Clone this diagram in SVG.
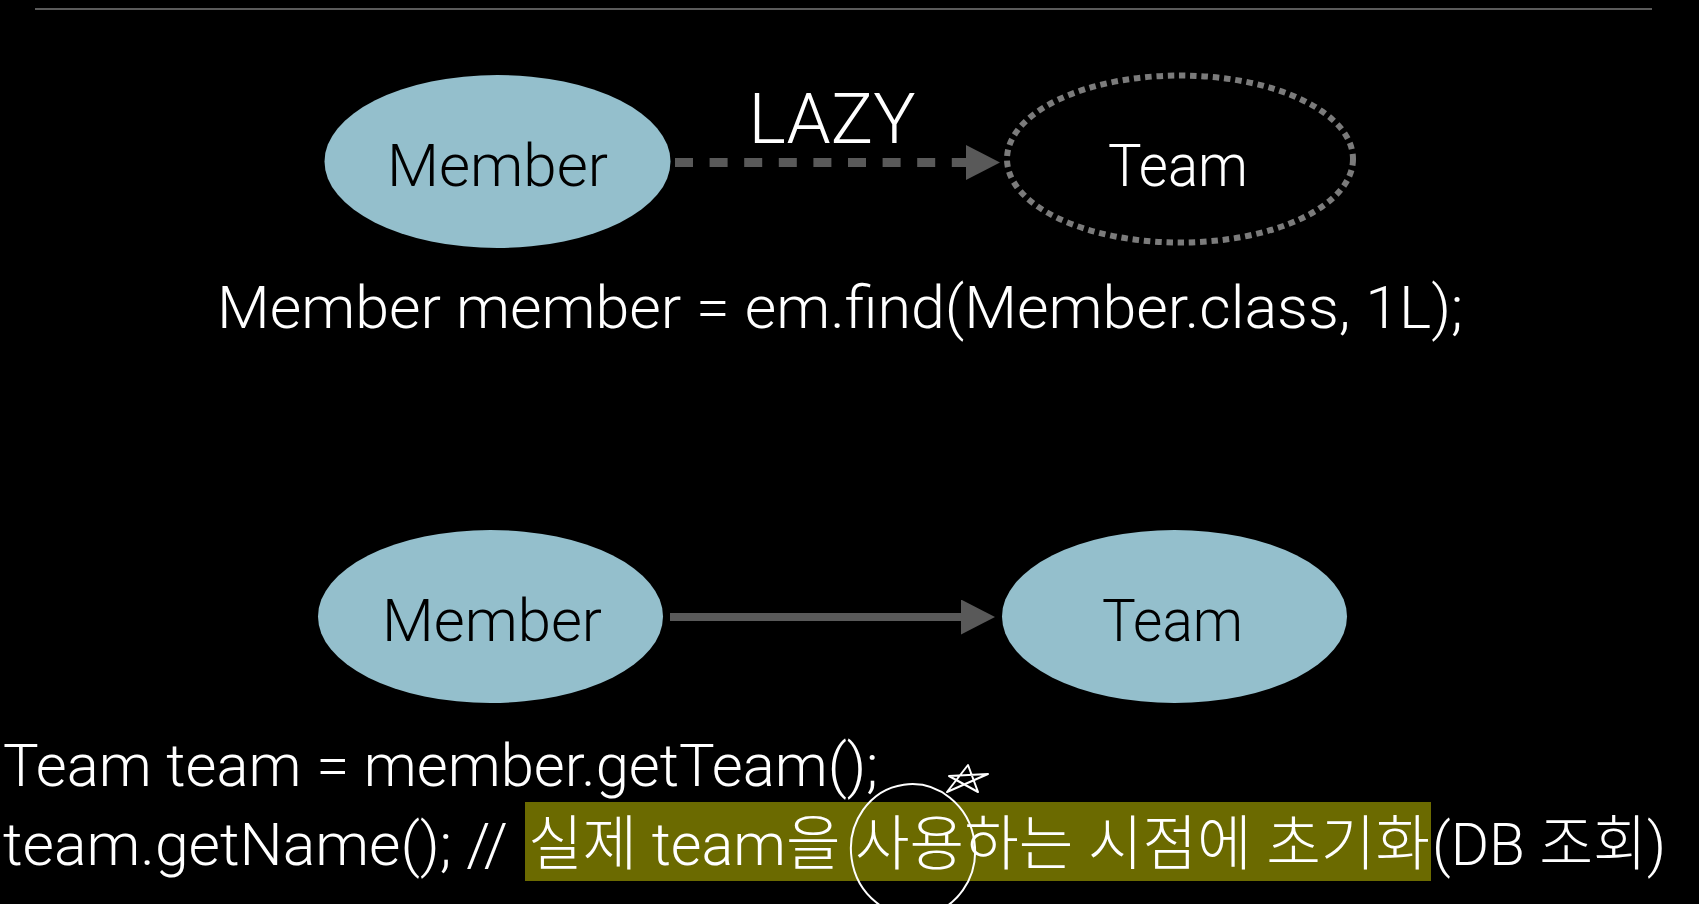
<svg xmlns="http://www.w3.org/2000/svg" width="1699" height="904" viewBox="0 0 1699 904">
  <style>
    .txt { font-family: Roboto, "Liberation Sans", "Noto Sans CJK KR", sans-serif; font-weight: 300; }
    .node { fill: #94bfcc; }
    .dark { fill: #000000; }
    .light { fill: #ffffff; }
    .conn { stroke: #595959; fill: none; }
  </style>
  <defs>
    <marker id="arrowhead" markerUnits="userSpaceOnUse" markerWidth="34" markerHeight="35" refX="0" refY="17.5" orient="auto">
      <path d="M0,0 L34,17.5 L0,35 Z" fill="#595959"/>
    </marker>
  </defs>
  <rect x="0" y="0" width="1699" height="904" fill="#000000"/>
  <line x1="35" y1="9" x2="1652" y2="9" stroke="#7a7a7a" stroke-width="1.5"/>

  <g id="node-member-top">
    <ellipse class="node" cx="497.5" cy="161.5" rx="173" ry="86.5"/>
    <text class="txt dark" x="497.5" y="186" font-size="60" text-anchor="middle" textLength="221" lengthAdjust="spacingAndGlyphs">Member</text>
  </g>

  <g id="node-team-top">
    <ellipse cx="1180" cy="159" rx="173" ry="83.5" fill="none" stroke="#7b7b7b" stroke-width="6" stroke-dasharray="6.5 4.8"/>
    <text class="txt light" x="1178" y="186" font-size="60" text-anchor="middle" textLength="140" lengthAdjust="spacingAndGlyphs">Team</text>
  </g>

  <g id="node-member-bottom">
    <ellipse class="node" cx="490.5" cy="616.5" rx="172.5" ry="86.5"/>
    <text class="txt dark" x="492" y="641" font-size="60" text-anchor="middle" textLength="220" lengthAdjust="spacingAndGlyphs">Member</text>
  </g>

  <g id="node-team-bottom">
    <ellipse class="node" cx="1174.5" cy="616.5" rx="172.5" ry="86.5"/>
    <text class="txt dark" x="1172.5" y="641" font-size="60" text-anchor="middle" textLength="141" lengthAdjust="spacingAndGlyphs">Team</text>
  </g>

  <g id="connectors">
    <line class="conn" x1="675" y1="162.5" x2="966" y2="162.5" stroke-width="9" stroke-dasharray="18 16.6" marker-end="url(#arrowhead)"/>
    <line class="conn" x1="670" y1="617" x2="961" y2="617" stroke-width="8" marker-end="url(#arrowhead)"/>
    <text class="txt light" x="748.6" y="143.3" font-size="70" textLength="167" lengthAdjust="spacingAndGlyphs">LAZY</text>
  </g>

  <g id="code">
    <text class="txt light" x="217" y="328" font-size="60" textLength="1246" lengthAdjust="spacingAndGlyphs">Member member = em.find(Member.class, 1L);</text>
    <text class="txt light" x="3" y="786" font-size="60" textLength="875" lengthAdjust="spacingAndGlyphs">Team team = member.getTeam();</text>
    <rect x="525" y="802" width="906" height="79" fill="#6b6a00"/>
    <text class="txt light" x="3" y="865" font-size="60" textLength="505" lengthAdjust="spacingAndGlyphs">team.getName(); //</text>
    <text class="txt light" x="528" y="865" font-size="60" textLength="902" lengthAdjust="spacingAndGlyphs">실제 team을 사용하는 시점에 초기화</text>
    <text class="txt light" x="1432" y="865" font-size="60" textLength="234" lengthAdjust="spacingAndGlyphs">(DB 조회)</text>
  </g>

  <g id="annotations" fill="none" stroke="#ffffff" stroke-width="2" stroke-linejoin="round">
    <ellipse cx="913" cy="850" rx="62" ry="66" transform="rotate(-8 913 850)"/>
    <path d="M947,792 L968,765 L978,792 L949,776 L988,774 Z"/>
  </g>
</svg>
